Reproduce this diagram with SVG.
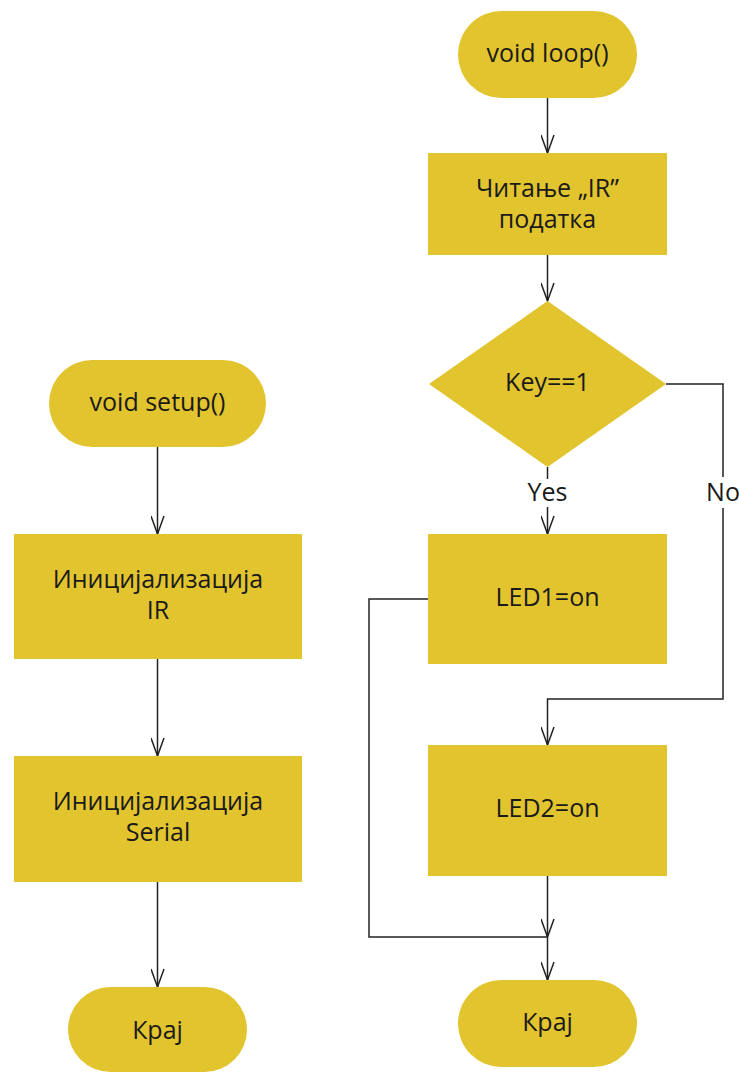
<svg xmlns="http://www.w3.org/2000/svg" width="739" height="1073" viewBox="0 0 739 1073">
<defs>
<style>
.n{fill:#E2C42E;}
.t{font-family:"Open Sans","Noto Sans","Liberation Sans",sans-serif;font-size:25px;fill:#1a1a1a;text-anchor:middle;}
.c{fill:none;stroke:#222;stroke-width:1.5;}
</style>
<marker id="a" viewBox="0 0 20 14" refX="19" refY="7" markerWidth="20" markerHeight="14" markerUnits="userSpaceOnUse" orient="auto">
<path d="M1,0.5 L19,7 L1,13.5" fill="none" stroke="#222" stroke-width="1.5"/>
</marker>
</defs>
<rect width="739" height="1073" fill="#fff"/>
<g id="connectors">
<line class="c" x1="157.5" y1="447" x2="157.5" y2="534" marker-end="url(#a)"/>
<line class="c" x1="157.5" y1="659" x2="157.5" y2="756" marker-end="url(#a)"/>
<line class="c" x1="157.5" y1="882" x2="157.5" y2="987" marker-end="url(#a)"/>
<line class="c" x1="547.5" y1="98" x2="547.5" y2="153" marker-end="url(#a)"/>
<line class="c" x1="547.5" y1="255" x2="547.5" y2="301" marker-end="url(#a)"/>
<polyline class="c" points="547.5,467 547.5,479"/>
<line class="c" x1="547.5" y1="507" x2="547.5" y2="534" marker-end="url(#a)"/>
<polyline class="c" points="666,384 723,384 723,477"/>
<polyline class="c" points="723,508 723,699 547.5,699 547.5,745" marker-end="url(#a)"/>
<polyline class="c" points="428,599 369,599 369,937 547.5,937"/>
<line class="c" x1="547.5" y1="876" x2="547.5" y2="937" marker-end="url(#a)"/>
<line class="c" x1="547.5" y1="937" x2="547.5" y2="980" marker-end="url(#a)"/>
<text class="t" x="547.5" y="501">Yes</text>
<text class="t" x="723" y="501">No</text>
</g>
<g id="setup">
<rect class="n" x="49" y="360" width="217" height="87" rx="43.5"/>
<text class="t" x="157.5" y="411">void setup()</text>
</g>
<g id="initIR">
<rect class="n" x="14" y="534" width="288" height="125"/>
<text class="t" x="158" y="588">Иницијализација</text>
<text class="t" x="158" y="619">IR</text>
</g>
<g id="initSerial">
<rect class="n" x="14" y="756" width="288" height="126"/>
<text class="t" x="158" y="810">Иницијализација</text>
<text class="t" x="158" y="841">Serial</text>
</g>
<g id="kraj1">
<rect class="n" x="68" y="987" width="179" height="85" rx="42.5"/>
<text class="t" x="157.5" y="1039">Крај</text>
</g>
<g id="loop">
<rect class="n" x="458" y="11" width="179" height="87" rx="43.5"/>
<text class="t" x="547.5" y="62">void loop()</text>
</g>
<g id="read">
<rect class="n" x="428" y="153" width="239" height="102"/>
<text class="t" x="547.5" y="197">Читање „IR”</text>
<text class="t" x="547.5" y="228">податка</text>
</g>
<g id="decision">
<polygon class="n" points="547.5,301 666,384 547.5,467 429,384"/>
<text class="t" x="547.5" y="391">Key==1</text>
</g>
<g id="led1">
<rect class="n" x="428" y="534" width="239" height="130"/>
<text class="t" x="547.5" y="606">LED1=on</text>
</g>
<g id="led2">
<rect class="n" x="428" y="745" width="239" height="131"/>
<text class="t" x="547.5" y="817">LED2=on</text>
</g>
<g id="kraj2">
<rect class="n" x="458" y="980" width="179" height="87" rx="43.5"/>
<text class="t" x="547.5" y="1031">Крај</text>
</g>
</svg>
